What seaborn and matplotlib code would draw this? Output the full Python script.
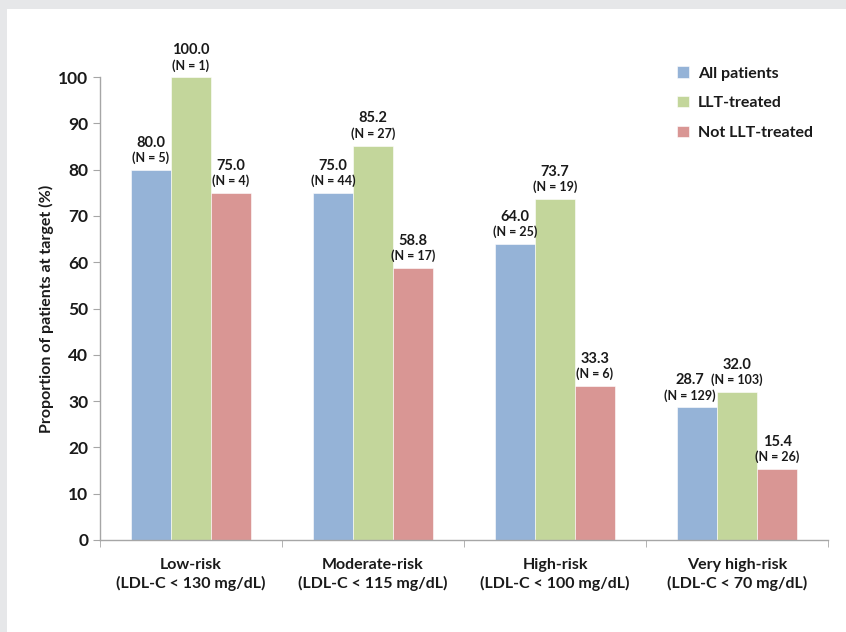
import matplotlib
matplotlib.use("Agg")
import matplotlib.pyplot as plt
from matplotlib.patches import Rectangle
import seaborn as sns
import pandas as pd

# data
categories = ["Low-risk\n(LDL-C < 130 mg/dL)", "Moderate-risk\n(LDL-C < 115 mg/dL)",
              "High-risk\n(LDL-C < 100 mg/dL)", "Very high-risk\n(LDL-C < 70 mg/dL)"]
groups = ["All patients", "LLT-treated", "Not LLT-treated"]
all_patients = [80.0, 75.0, 64.0, 28.7]
llt_treated = [100.0, 85.2, 73.7, 32.0]
not_llt_treated = [75.0, 58.8, 33.3, 15.4]
n_all = [5, 44, 25, 129]
n_llt = [1, 27, 19, 103]
n_not = [4, 17, 6, 26]

colors = ["#95b3d7", "#c3d69b", "#d99694"]

rows = []
for g, vals in zip(groups, [all_patients, llt_treated, not_llt_treated]):
    for c, v in zip(categories, vals):
        rows.append({"category": c, "group": g, "value": v})
df = pd.DataFrame(rows)

sns.set_style("white")
plt.rcParams["font.family"] = ["Lato", "DejaVu Sans"]
txt = "#1a1a1a"

fig = plt.figure(figsize=(8.46, 6.32), dpi=100)
ax = fig.add_axes([100 / 846, 1 - 540 / 632, 728 / 846, 463 / 632])

sns.barplot(data=df, x="category", y="value", hue="group", order=categories,
            hue_order=groups, palette=colors, width=0.66, saturation=1,
            edgecolor="white", linewidth=0.4, ax=ax)

# value + N labels above bars
ns = [n_all, n_llt, n_not]
for gi, cont in enumerate(ax.containers):
    for ci, bar in enumerate(cont):
        x = bar.get_x() + bar.get_width() / 2
        h = bar.get_height()
        dx = -5 if (gi == 0 and ci == 3) else 0
        ax.annotate(f"{h:.1f}", (x, h), xytext=(dx, 19.5), textcoords="offset points",
                    ha="center", va="center", fontsize=10.5, fontweight="bold",
                    color=txt, annotation_clip=False)
        ax.annotate(f"(N = {ns[gi][ci]})", (x, h), xytext=(dx, 8.5), textcoords="offset points",
                    ha="center", va="center", fontsize=9, fontweight="bold",
                    color=txt, annotation_clip=False)

ax.set_ylim(0, 100)
ax.set_xlim(-0.5, 3.5)
ax.set_yticks(range(0, 101, 10))
ax.tick_params(axis="y", labelsize=12.5, length=5, color="#a6a6a6", direction="out",
               left=True, labelcolor=txt)
for lbl in ax.get_yticklabels():
    lbl.set_fontweight("bold")
ax.tick_params(axis="x", which="major", length=0, labelsize=11.5, pad=13, labelcolor=txt)
for lbl in ax.get_xticklabels():
    lbl.set_fontweight("bold")
    lbl.set_linespacing(1.35)
ax.set_xticks([-0.5, 0.5, 1.5, 2.5, 3.5], minor=True)
ax.tick_params(axis="x", which="minor", length=5, color="#a6a6a6", direction="out", bottom=True)

ax.set_xlabel("")
ax.set_ylabel("Proportion of patients at target (%)", fontsize=11.5, fontweight="bold",
              labelpad=3, color=txt)

sns.despine(ax=ax)
for side in ["left", "bottom"]:
    ax.spines[side].set_color("#a6a6a6")
    ax.spines[side].set_linewidth(1)

leg = ax.legend(loc="upper left", bbox_to_anchor=(663 / 846, 1 - 52 / 632),
                bbox_transform=fig.transFigure, frameon=False, handlelength=0.7,
                handleheight=0.7, handletextpad=0.6, labelspacing=0.98,
                prop={"size": 11.5, "weight": "bold"})
for t in leg.get_texts():
    t.set_color(txt)

# grey frame strips along the top and left edges
fig.patches.append(Rectangle((0, 1 - 9 / 632), 1, 9 / 632, transform=fig.transFigure,
                             facecolor="#e6e7e9", edgecolor="none", zorder=0))
fig.patches.append(Rectangle((0, 0), 7 / 846, 1, transform=fig.transFigure,
                             facecolor="#e6e7e9", edgecolor="none", zorder=0))

fig.savefig("out.png", dpi=100)
